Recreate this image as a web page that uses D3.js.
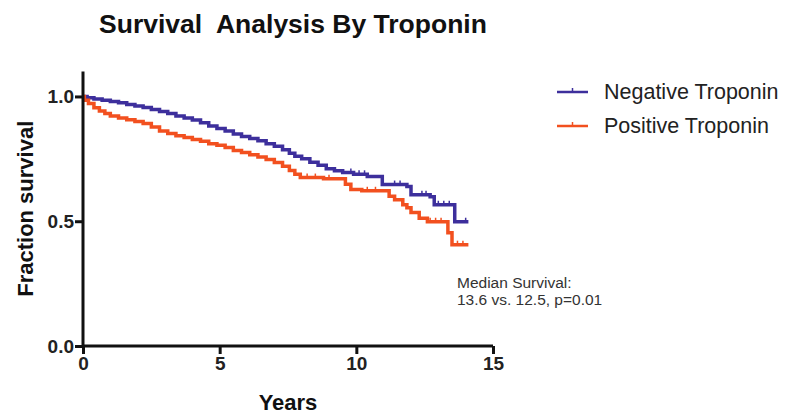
<!DOCTYPE html>
<html>
<head>
<meta charset="utf-8">
<script src="https://cdn.jsdelivr.net/npm/d3@7"></script>
<style>
  body { margin: 0; background: #fff; }
  svg { font-family: "Liberation Sans", Arial, Helvetica, sans-serif; }
</style>
</head>
<body>
<div id="container"></div>
<script>
// Kaplan-Meier steps: [years, fraction surviving after the drop]
const seriesNames = ["Negative Troponin", "Positive Troponin"];

const negTimes = [0, 0.15, 0.4, 0.7, 1.0, 1.3, 1.6, 1.9, 2.2, 2.5, 2.8, 3.1, 3.4, 3.7, 4.0, 4.3, 4.6, 4.9, 5.2, 5.5, 5.8, 6.1, 6.4, 6.7, 7.0, 7.3, 7.55, 7.75, 8.0, 8.3, 8.6, 8.9, 9.2, 9.5, 9.9, 10.4, 10.95, 11.85, 12.0, 12.7, 12.85, 13.6, 14.1];
const negSurv = [1.0, 0.995, 0.99, 0.985, 0.98, 0.975, 0.968, 0.962, 0.956, 0.948, 0.94, 0.932, 0.922, 0.914, 0.906, 0.895, 0.882, 0.872, 0.862, 0.85, 0.84, 0.832, 0.822, 0.81, 0.8, 0.786, 0.772, 0.76, 0.75, 0.736, 0.724, 0.71, 0.702, 0.695, 0.688, 0.679, 0.647, 0.639, 0.606, 0.598, 0.566, 0.498, 0.498];
const negCensored = [9.8, 10.1, 10.3, 11.4, 11.6, 12.4, 12.55, 13.0, 13.2, 13.4, 14.0];

const posTimes = [0, 0.05, 0.2, 0.4, 0.6, 0.8, 1.0, 1.3, 1.6, 1.9, 2.2, 2.5, 2.8, 3.1, 3.4, 3.7, 4.0, 4.3, 4.6, 4.9, 5.2, 5.5, 5.8, 6.1, 6.4, 6.7, 7.0, 7.3, 7.55, 7.75, 7.95, 8.8, 9.6, 9.8, 10.2, 11.2, 11.4, 11.7, 11.85, 12.0, 12.3, 12.6, 13.35, 13.5, 14.1];
const posSurv = [1.0, 0.985, 0.972, 0.955, 0.942, 0.932, 0.922, 0.914, 0.907, 0.9, 0.892, 0.878, 0.862, 0.852, 0.843, 0.836, 0.828, 0.82, 0.81, 0.804, 0.795, 0.783, 0.775, 0.766, 0.757, 0.747, 0.735, 0.72, 0.703, 0.688, 0.675, 0.67, 0.648, 0.627, 0.622, 0.6, 0.586, 0.566, 0.554, 0.535, 0.512, 0.498, 0.454, 0.406, 0.406];
const posCensored = [8.2, 8.5, 9.0, 10.4, 10.7, 12.7, 12.9, 13.1, 13.7, 13.9];

const xTicks = [0, 5, 10, 15];
const yTicks = [0, 0.5, 1.0];
const annotation = ["Median Survival:", "13.6 vs. 12.5, p=0.01"];

const colors = ["#3d2f9c", "#f2501f"];

const width = 788, height = 420;
const margin = { top: 72, right: 295, bottom: 74, left: 83 };

const svg = d3.select("#container")
  .append("svg")
  .attr("width", width)
  .attr("height", height);

const x = d3.scaleLinear().domain([0, 15]).range([margin.left, width - margin.right]);
const y = d3.scaleLinear().domain([0, 1.1]).range([height - margin.bottom, margin.top - 0.5]);

// title
svg.append("text")
  .attr("x", 293)
  .attr("y", 33)
  .attr("text-anchor", "middle")
  .attr("font-size", "26.5px")
  .attr("font-weight", "bold")
  .attr("fill", "#111")
  .style("white-space", "pre")
  .text("Survival  Analysis By Troponin");

// curves
const series = [
  { times: negTimes, surv: negSurv, cens: negCensored },
  { times: posTimes, surv: posSurv, cens: posCensored }
];

const line = d3.line()
  .x((d) => x(d[0]))
  .y((d) => y(d[1]))
  .curve(d3.curveStepAfter);

const survAt = (s, t) => {
  let v = s.surv[0];
  s.times.forEach((tt, i) => { if (tt <= t) v = s.surv[i]; });
  return v;
};

series.forEach((s, k) => {
  const pts = s.times.map((t, i) => [t, s.surv[i]]);
  svg.append("path")
    .datum(pts)
    .attr("d", line)
    .attr("fill", "none")
    .attr("stroke", colors[k])
    .attr("stroke-width", 3.5);

  svg.append("g")
    .selectAll("line")
    .data(s.cens)
    .enter()
    .append("line")
    .attr("x1", (d) => x(d))
    .attr("x2", (d) => x(d))
    .attr("y1", (d) => y(survAt(s, d)))
    .attr("y2", (d) => y(survAt(s, d)) - 4)
    .attr("stroke", colors[k])
    .attr("stroke-width", 1.5);
});

// axes
const xAxis = svg.append("g")
  .attr("transform", `translate(0, ${y(0)})`)
  .call(d3.axisBottom(x).tickValues(xTicks).tickSize(8).tickPadding(3).tickFormat(d3.format("d")));

const yAxis = svg.append("g")
  .attr("transform", `translate(${x(0)}, 0)`)
  .call(d3.axisLeft(y).tickValues(yTicks).tickSize(8).tickPadding(1).tickFormat(d3.format(".1f")));

[xAxis, yAxis].forEach((a) => {
  a.select(".domain").attr("stroke", "#111").attr("stroke-width", 3);
  a.selectAll(".tick line").attr("stroke", "#111").attr("stroke-width", 3);
  a.selectAll(".tick text")
    .attr("fill", "#222")
    .attr("font-size", "19px")
    .attr("font-weight", "bold")
    .attr("font-family", "'Liberation Sans', Arial, sans-serif");
});
// shorter domain without outer ticks
xAxis.select(".domain").attr("d", `M${x(0)},0H${x(15)}`);
yAxis.select(".domain").attr("d", `M0,${y(0)}V${y(1.1)}`);

// axis titles
svg.append("text")
  .attr("x", (x(0) + x(15)) / 2)
  .attr("y", 410)
  .attr("text-anchor", "middle")
  .attr("font-size", "22px")
  .attr("font-weight", "bold")
  .attr("fill", "#111")
  .text("Years");

svg.append("text")
  .attr("transform", `translate(33, ${(y(0) + y(1.1)) / 2}) rotate(-90)`)
  .attr("text-anchor", "middle")
  .attr("font-size", "22px")
  .attr("font-weight", "bold")
  .attr("fill", "#111")
  .text("Fraction survival");

// legend
const legend = svg.append("g")
  .selectAll("g")
  .data(seriesNames)
  .enter()
  .append("g")
  .attr("transform", (d, i) => `translate(557, ${92 + 34 * i})`);

legend.append("line")
  .attr("x1", 0).attr("x2", 31)
  .attr("stroke", (d, i) => colors[i])
  .attr("stroke-width", 2.5);
legend.append("line")
  .attr("x1", 15.5).attr("x2", 15.5)
  .attr("y1", 0).attr("y2", -4)
  .attr("stroke", (d, i) => colors[i])
  .attr("stroke-width", 1.5);
legend.append("text")
  .attr("x", 47)
  .attr("y", 7)
  .attr("font-size", "21.5px")
  .attr("fill", "#222")
  .text((d) => d);

// annotation
svg.append("g")
  .selectAll("text")
  .data(annotation)
  .enter()
  .append("text")
  .attr("x", 457)
  .attr("y", (d, i) => 288 + 17 * i)
  .attr("font-size", "15.5px")
  .attr("fill", "#333")
  .text((d) => d);
</script>
</body>
</html>
